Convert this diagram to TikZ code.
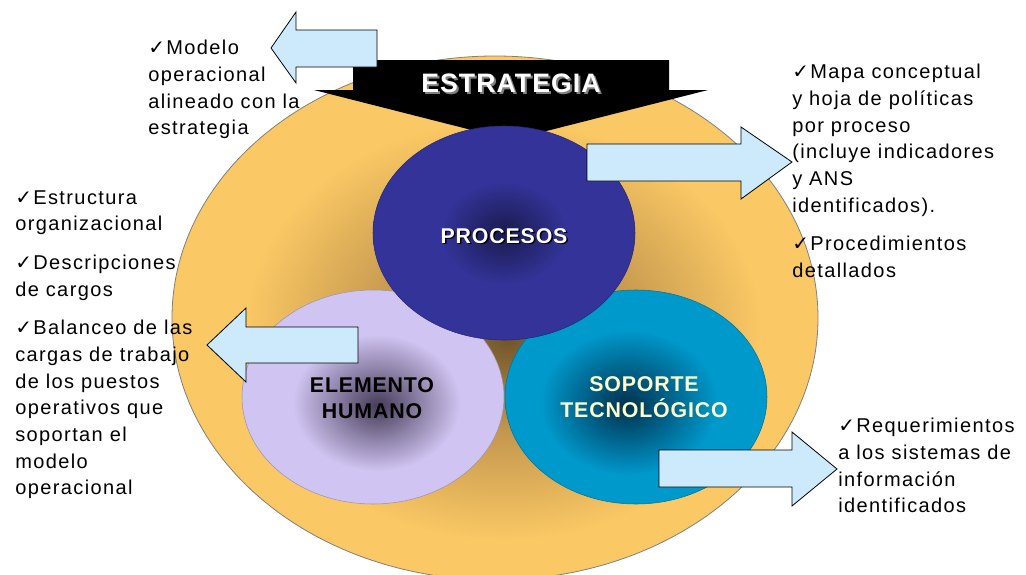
\documentclass[tikz,border=0pt]{standalone}
\usepackage{fontspec}
\setmainfont{Liberation Sans}
\newfontfamily\notefont{Liberation Sans}[LetterSpace=7]
\newfontfamily\headfont{Liberation Sans}[LetterSpace=4]
\newfontfamily\chkfont{DejaVu Sans}
\usetikzlibrary{shapes.geometric}

\definecolor{ringorange}{RGB}{250,200,100}
\definecolor{ringmid}{RGB}{195,150,78}
\definecolor{ringbrown}{RGB}{112,85,44}
\definecolor{procblue}{RGB}{51,51,153}
\definecolor{procdark}{RGB}{26,26,78}
\definecolor{humlilac}{RGB}{208,196,242}
\definecolor{humdark}{RGB}{70,60,88}
\definecolor{sopcyan}{RGB}{0,153,204}
\definecolor{sopdark}{RGB}{0,48,78}
\definecolor{sopyellow}{RGB}{255,255,204}
\definecolor{arrowblue}{RGB}{204,234,252}

\pgfdeclareradialshading{ringshade}{\pgfpoint{1bp}{-2bp}}{color(0bp)=(ringbrown); color(9bp)=(ringmid); color(20bp)=(ringorange); color(50bp)=(ringorange)}
\pgfdeclareradialshading{procshade}{\pgfpoint{0bp}{0bp}}{color(0bp)=(procdark); color(12bp)=(procblue); color(50bp)=(procblue)}
\pgfdeclareradialshading{humshade}{\pgfpoint{1bp}{-2bp}}{color(0bp)=(humdark); color(16bp)=(humlilac); color(50bp)=(humlilac)}
\pgfdeclareradialshading{sopshade}{\pgfpoint{-2bp}{-2bp}}{color(0bp)=(sopdark); color(17bp)=(sopcyan); color(50bp)=(sopcyan)}

\newcommand{\chk}{{\chkfont ✓}\kern1pt}

\begin{document}
\begin{tikzpicture}[x=0.75pt,y=0.75pt,yscale=-1,xscale=1,
  circ/.style={ellipse, inner sep=0pt, minimum width=196.5pt, minimum height=160.5pt},
  circtext/.style={font=\headfont\bfseries\fontsize{16}{19}\selectfont, align=center},
  bullets/.style={font=\notefont\fontsize{15}{20}\selectfont, align=left, anchor=north west, inner sep=0pt},
  blockarrow/.style={draw=black, fill=arrowblue, line width=0.6pt}]
\useasboundingbox (0,0) rectangle (1026,575);

%Shape: Ellipse
\node[ellipse, draw=gray, line width=0.6pt, shading=ringshade, inner sep=0pt, minimum width=484.5pt, minimum height=393pt] (ring) at (495,318) {};

%Shape: Banner
\fill[black] (353,60) -- (669,60) -- (669,90) -- (708,90) -- (511,140) -- (314,90) -- (353,90) -- cycle ;
\node[circtext, font=\headfont\bfseries\fontsize{20}{24}\selectfont, text=gray] (estrategia-sh) at (513,85) {ESTRATEGIA};
\node[circtext, font=\headfont\bfseries\fontsize{20}{24}\selectfont, text=white] (estrategia) at (511,83) {ESTRATEGIA};

%Shape: Ellipse
\node[circ, shading=humshade, draw=humlilac!75!black, line width=0.4pt] (humano) at (373,397) {};
%Shape: Ellipse
\node[circ, shading=sopshade, draw=sopcyan!75!black, line width=0.4pt] (soporte) at (636,397) {};
%Shape: Ellipse
\node[circ, shading=procshade, draw=procblue!75!black, line width=0.4pt] (procesos) at (504,233) {};

\node[circtext, text=black] (humano-txt) at (372,398) {ELEMENTO\\HUMANO};
\node[circtext, text=sopyellow] (soporte-txt) at (644,397) {SOPORTE\\TECNOLÓGICO};
\node[circtext, text=black] (procesos-sh) at (505.5,237.5) {PROCESOS};
\node[circtext, text=white] (procesos-txt) at (504,236) {PROCESOS};

%Shape: Left Arrow
\draw[blockarrow] (377,30) -- (296,30) -- (296,12) -- (271,48) -- (296,83) -- (296,67) -- (377,67) -- cycle ;
%Shape: Right Arrow
\draw[blockarrow] (587,144) -- (741,144) -- (741,127) -- (792,162) -- (741,199) -- (741,181) -- (587,181) -- cycle ;
%Shape: Left Arrow
\draw[blockarrow] (358,327) -- (246,327) -- (246,308) -- (207,345) -- (246,382) -- (246,363) -- (358,363) -- cycle ;
%Shape: Right Arrow
\draw[blockarrow] (659,450) -- (792,450) -- (792,432) -- (837,469) -- (792,506) -- (792,487) -- (659,487) -- cycle ;

%Text
\node[bullets] (modelo) at (148,40) {\chk Modelo\\operacional\\alineado con la\\estrategia};
\node[bullets] (mapa) at (792,64) {\chk Mapa conceptual\\y hoja de políticas\\por proceso\\(incluye indicadores\\y ANS\\identificados).\\[9pt]\chk Procedimientos\\detallados};
\node[bullets] (estructura) at (15,190) {\chk Estructura\\organizacional\\[9pt]\chk Descripciones\\de cargos\\[9pt]\chk Balanceo de las\\cargas de trabajo\\de los puestos\\operativos que\\soportan el\\modelo\\operacional};
\node[bullets] (requerimientos) at (838,418) {\chk Requerimientos\\a los sistemas de\\información\\identificados};

\end{tikzpicture}
\end{document}
